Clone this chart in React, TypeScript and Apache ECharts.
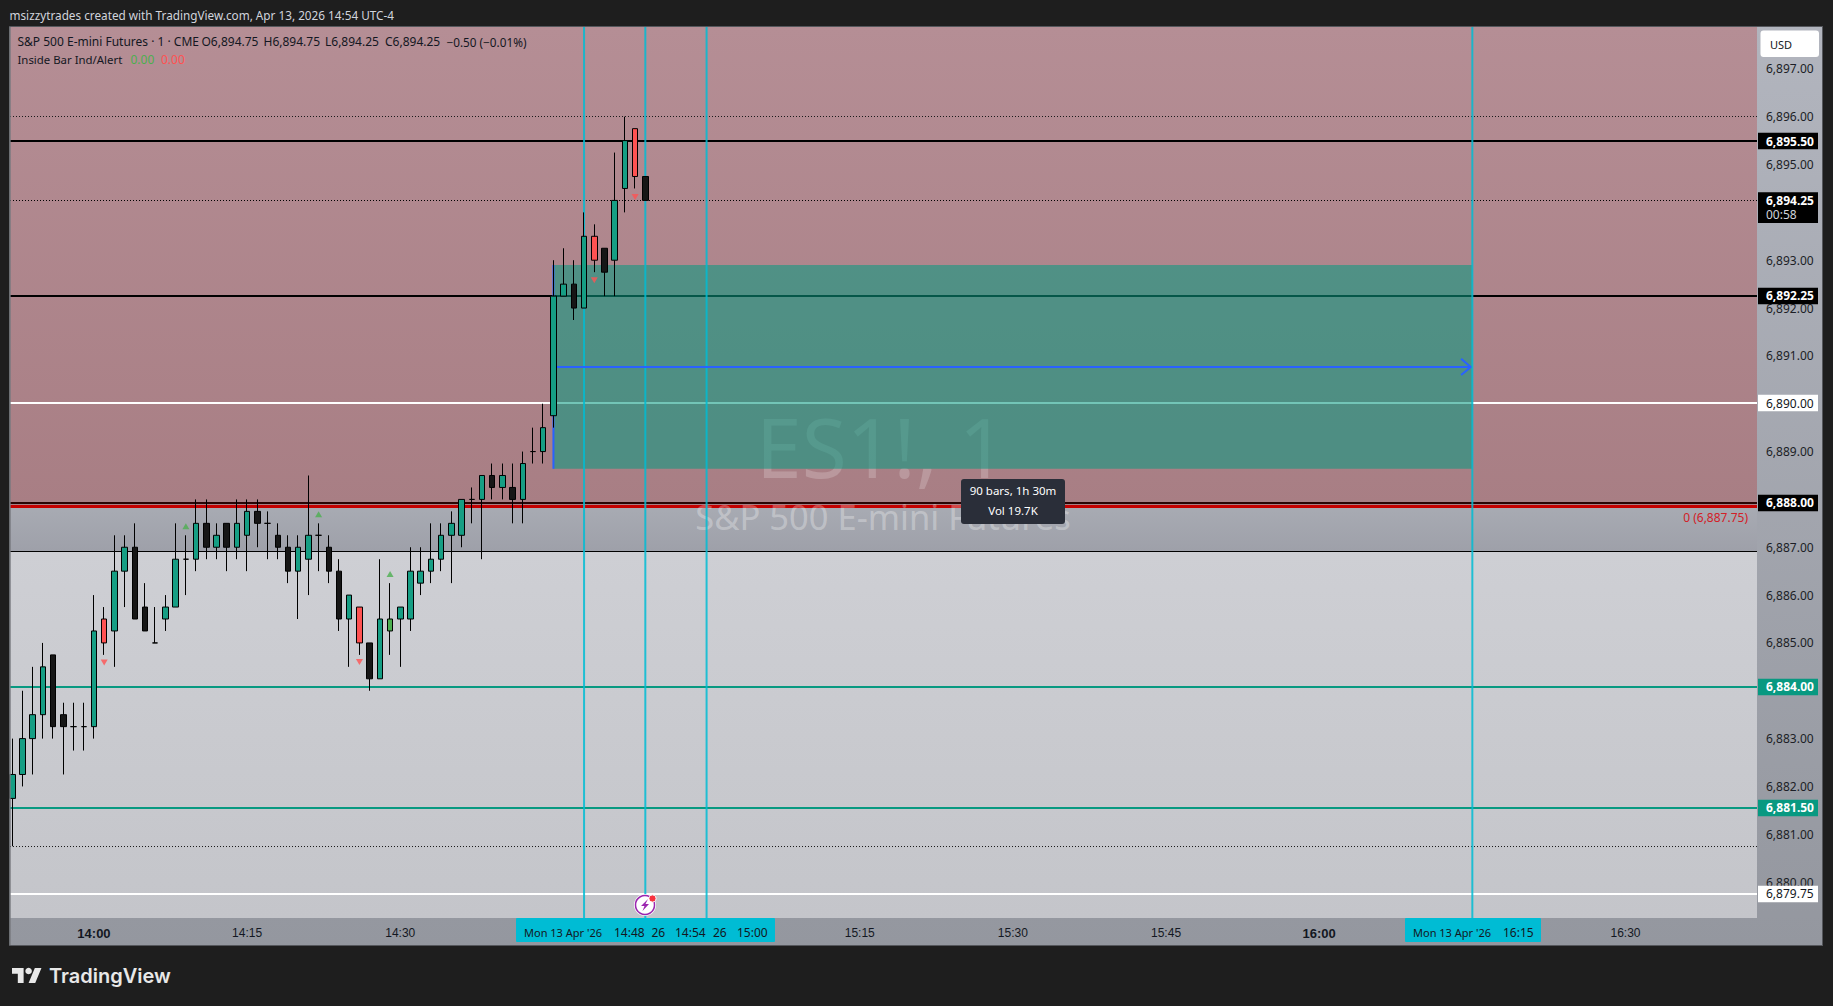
import React, { useEffect, useRef } from "react";
import * as echarts from "echarts";

// Time in minutes since midnight; first bar is 13:52, one bar per minute
const firstMinute = 832;
const opens = [6881.75,6882.25,6883,6883.5,6884.75,6883.5,6883.25,6883.25,6883.25,6885.5,6885.25,6886.5,6887,6885.75,6885,6885.5,6885.75,6886.75,6886.75,6887.5,6887,6887.5,6887,6887.25,6887.75,6887.5,6887.25,6887,6886.5,6886.75,6887.25,6887,6886.5,6885.5,6885.75,6885,6884.25,6885.25,6885.5,6885.5,6886.25,6886.5,6886.75,6887.25,6887.25,6888,6888,6888.5,6888.25,6888.25,6888,6889,6889,6889.75,6892.25,6892.5,6892,6893.5,6893.25,6893,6894.5,6895.75,6894.75];
const closes = [6882.25,6883,6883.5,6884.5,6883.25,6883.25,6883.25,6883.25,6885.25,6885,6886.5,6887,6885.5,6885.25,6885,6885.75,6886.75,6886.75,6887.5,6887,6887.25,6887,6887.5,6887.75,6887.5,6887.5,6887,6886.5,6887,6887.25,6887.25,6886.5,6885.5,6886,6885,6884.25,6885.5,6885.5,6885.75,6886.5,6886.5,6886.75,6887.25,6887.5,6888,6888,6888.5,6888.25,6888.5,6888,6888.75,6889,6889.5,6892.25,6892.5,6892,6893.5,6893,6892.75,6894.25,6895.5,6894.75,6894.25];
const lows = [6880.75,6882,6882.25,6883,6883,6882.25,6882.75,6882.75,6883,6884.75,6884.5,6885.75,6885.5,6885.25,6885,6885.25,6885.75,6886,6886.5,6886.75,6886.75,6886.5,6886.75,6886.5,6887,6886.75,6886.75,6886.25,6885.5,6886,6886.5,6886.25,6885.25,6884.5,6884.75,6884,6884.25,6884.75,6884.5,6885.25,6886,6886.25,6886.5,6886.25,6887,6887.5,6886.75,6888,6888,6887.5,6887.5,6888.75,6888.75,6889.5,6892.25,6891.75,6892,6892.75,6892.25,6892.25,6894,6894.5,6894.25];
const highs = [6883,6884,6884.5,6885,6884.75,6883.75,6883.75,6883.75,6886,6885.75,6887.25,6887.25,6887.5,6886.25,6885.75,6886,6887.5,6887.25,6888,6888,6887.5,6887.5,6888,6888,6888,6887.75,6887.5,6887.25,6887.25,6888.5,6887.5,6887.25,6886.75,6886,6885.75,6885,6886.75,6886.25,6885.75,6887,6887,6887.5,6887.5,6887.75,6888,6888.25,6888.5,6888.75,6888.75,6888.75,6889,6889.5,6890,6893,6893.25,6893,6894,6893.75,6893.25,6895.25,6896,6895.75,6894.75];
const kinds = ["t","t","t","t","b","b","b","b","t","r","t","t","b","b","b","t","t","b","t","b","t","b","t","t","b","b","b","b","t","t","b","b","b","t","r","b","t","g","t","t","t","t","t","t","t","b","t","b","t","b","t","b","t","t","t","b","t","r","b","t","t","r","b"];

const buyMarkMinutes = [849, 862, 869];
const buyMarkPrices = [6887.44, 6887.69, 6886.44];
const sellMarkMinutes = [841, 866, 889, 893];
const sellMarkPrices = [6884.59, 6884.6, 6892.58, 6894.32];

const priceTicks = [6880,6881,6882,6883,6885,6886,6887,6888,6889,6890,6891,6892,6893,6895,6896,6897];
const timeTicks = [840, 855, 870, 915, 930, 945, 960, 990];
const cursorMinutes = [888, 894, 900, 975];

const levelValues = [6895.492, 6892.252, 6890.015, 6887.925, 6887.852, 6886.911, 6884.079, 6881.55, 6879.752, 6896.004, 6894.248, 6880.744];
const tagValues = [6895.492, 6894.248, 6892.252, 6890.015, 6887.925, 6884.079, 6881.55, 6879.752];
const tagTexts = ["6,895.50", "6,894.25", "6,892.25", "6,890.00", "6,888.00", "6,884.00", "6,881.50", "6,879.75"];

const positionStart = 885;
const positionEnd = 975;
const positionTop = 6892.9;
const positionBottom = 6888.64;
const positionMid = 6890.77;

const X_MIN = 831.775;
const X_MAX = 1002.88;
const Y_MIN = 6879.25;
const Y_MAX = 6897.875;
const ZONE_PINK_BOTTOM = 6887.852;
const ZONE_BAND_BOTTOM = 6886.911;

const levelStyles = [
  { color: "#000000", width: 2 },
  { color: "#000000", width: 2 },
  { color: "#ffffff", width: 2 },
  { color: "#2a0505", width: 2 },
  { color: "#c40000", width: 3 },
  { color: "#000000", width: 1 },
  { color: "#089981", width: 2 },
  { color: "#089981", width: 2 },
  { color: "#ffffff", width: 2 },
  { color: "#1a1a1a", width: 1, type: [1, 2] },
  { color: "#000000", width: 1, type: [1, 2] },
  { color: "#1a1a1a", width: 1, type: [1, 2] },
];
const tagStyles = [
  { fill: "#000000", ink: "#ffffff", bold: true },
  { fill: "#000000", ink: "#ffffff", bold: true, sub: "00:58" },
  { fill: "#000000", ink: "#ffffff", bold: true },
  { fill: "#ffffff", ink: "#131722", bold: false },
  { fill: "#000000", ink: "#ffffff", bold: true },
  { fill: "#089981", ink: "#ffffff", bold: true },
  { fill: "#089981", ink: "#ffffff", bold: true },
  { fill: "#ffffff", ink: "#131722", bold: false },
];
const kindColors: Record<string, string> = { t: "#169e84", b: "#161616", r: "#ff5252", g: "#4caf50" };

const UI = "'Noto Sans', sans-serif";
const vGrad = (a: string, b: string) =>
  new echarts.graphic.LinearGradient(0, 0, 0, 1, [{ offset: 0, color: a }, { offset: 1, color: b }]);

const money = (v: number) =>
  v.toLocaleString("en-US", { minimumFractionDigits: 2, maximumFractionDigits: 2 });
const clock = (m: number) =>
  `${Math.floor(m / 60)}:${String(m % 60).padStart(2, "0")}`;

echarts.graphic.registerShape(
  "tvlogo",
  echarts.graphic.extendPath("M14 22H7V11H0V4h14v18zM28 22h-8l7.5-18h8L28 22z", {}) as any
);

const hLine = (v: number) => [[X_MIN, v], [X_MAX, v]];
const lineSeries = (data: number[][], style: any, z: number) => ({
  type: "line",
  data,
  silent: true,
  showSymbol: false,
  symbol: "none",
  animation: false,
  z,
  lineStyle: { ...style, cap: "butt" },
});

const zoneSeries = (rows: any[], z: number) => ({
  type: "custom",
  silent: true,
  z,
  data: rows.map((r) => [r.x0, r.y0, r.x1, r.y1]),
  renderItem: (params: any, api: any) => {
    const a = api.coord([api.value(0), api.value(1)]);
    const b = api.coord([api.value(2), api.value(3)]);
    return {
      type: "rect",
      shape: { x: a[0], y: a[1], width: b[0] - a[0], height: b[1] - a[1] },
      style: { fill: rows[params.dataIndex].fill },
    };
  },
});

const txt = (text: string, x: number, y: number, o: any = {}) => ({
  type: "text",
  x,
  y,
  z: o.z ?? 30,
  silent: true,
  style: {
    text,
    fill: o.fill ?? "#131722",
    font: `${o.weight ?? "normal"} ${o.size ?? 12}px ${o.family ?? UI}`,
    align: o.align ?? "left",
    verticalAlign: "middle",
  },
});

export default function App() {
  const ref = useRef<HTMLDivElement>(null);
  useEffect(() => {
    document.body.style.margin = "0";
    document.body.style.background = "#1e1e1e";
    const chart = echarts.init(ref.current!, undefined, { renderer: "svg" });

    const candleData = opens.map((o, i) => {
      const c = kindColors[kinds[i]];
      return {
        value: [firstMinute + i, o, closes[i], lows[i], highs[i]],
        itemStyle: { color: c, color0: c, borderColor: "#000000", borderColor0: "#000000", borderWidth: 1 },
      };
    });

    const graphic = [
      { type: "rect", z: -20, silent: true, shape: { x: 9, y: 26, width: 1814, height: 920 }, style: { fill: "#55575c" } },
      { type: "rect", z: -19, silent: true, shape: { x: 10, y: 27, width: 1812, height: 918 }, style: { fill: vGrad("#b2b5be", "#94979f") } },
      { type: "rect", z: 25, silent: true, shape: { x: 9.3, y: 27, width: 1.4, height: 918 }, style: { fill: "#77797e" } },

      txt("msizzytrades created with TradingView.com, Apr 13, 2026 14:54 UTC-4", 9.5, 15, { fill: "#d1d4dc", size: 11.75 }),

      txt("S&P 500 E-mini Futures · 1 · CME", 17.5, 41.5),
      txt("O6,894.75", 201.5, 41.5),
      txt("H6,894.75", 263.5, 41.5),
      txt("L6,894.25", 325, 41.5),
      txt("C6,894.25", 385, 41.5),
      txt("−0.50 (−0.01%)", 446.5, 41.5, { size: 11.75 }),
      txt("Inside Bar Ind/Alert", 17.5, 59, { size: 11.4 }),
      txt("0.00", 130.5, 59, { fill: "#4caf50" }),
      txt("0.00", 161, 59, { fill: "#ff5252" }),

      // watermark, under the position box
      { ...txt("ES1!, 1", 881, 446, { size: 82, align: "center", fill: "rgba(255,255,255,0.2)", z: 3 }) },
      { ...txt("S&P 500 E-mini Futures", 883, 516, { size: 34.5, align: "center", fill: "rgba(255,255,255,0.3)", z: 3 }) },

      txt("0 (6,887.75)", 1748, 517.5, { fill: "#d32027", align: "right", z: 20 }),

      // tooltip of the position tool
      { type: "rect", z: 30, silent: true, shape: { x: 961, y: 479, width: 104, height: 45, r: 3 }, style: { fill: "#2a2e39" } },
      txt("90 bars, 1h 30m", 1013, 490, { fill: "#ffffff", align: "center", size: 11.5 }),
      txt("Vol 19.7K", 1013, 510.5, { fill: "#ffffff", align: "center", size: 11.5 }),

      // USD button
      { type: "rect", z: 30, silent: true, shape: { x: 1760.5, y: 30.5, width: 58.5, height: 26.5, r: 3 }, style: { fill: "#ffffff" } },
      txt("USD", 1770, 44.5, { size: 11 }),

      // time-axis cursor labels
      { type: "rect", z: 30, silent: true, shape: { x: 516, y: 918, width: 259, height: 24, r: 1 }, style: { fill: "#00bcd4" } },
      txt("Mon 13 Apr '26", 524, 932.5, { size: 11 }),
      txt("14:48", 614, 932.5),
      txt("26", 651.5, 932.5),
      txt("14:54", 675, 932.5),
      txt("26", 713, 932.5),
      txt("15:00", 737, 932.5),
      { type: "rect", z: 30, silent: true, shape: { x: 1405, y: 918, width: 136, height: 24, r: 1 }, style: { fill: "#00bcd4" } },
      txt("Mon 13 Apr '26", 1413, 932.5, { size: 11 }),
      txt("16:15", 1503, 932.5),

      // alert icon
      { type: "circle", z: 30, silent: true, shape: { cx: 645, cy: 905, r: 11 }, style: { fill: "#ffffff" } },
      { type: "circle", z: 30, silent: true, shape: { cx: 645, cy: 905, r: 9.5 }, style: { fill: "#ffffff", stroke: "#9c27b0", lineWidth: 1.5 } },
      { type: "polygon", z: 31, silent: true, shape: { points: [[648, 899], [641, 906], [644.5, 906], [642.5, 911], [649, 904], [645.5, 904]] }, style: { fill: "#9c27b0" } },
      { type: "circle", z: 32, silent: true, shape: { cx: 652.5, cy: 898.5, r: 3.6 }, style: { fill: "#f7323f", stroke: "#ffffff", lineWidth: 1 } },

      // TradingView logo
      { type: "tvlogo", z: 30, silent: true, x: 12, y: 964.7, scaleX: 0.83, scaleY: 0.83, style: { fill: "#e8e8e8" } },
      { type: "circle", z: 30, silent: true, shape: { cx: 12 + 20 * 0.83, cy: 964.7 + 7.6 * 0.83, r: 3.3 }, style: { fill: "#e8e8e8" } },
      txt("TradingView", 49, 976, { size: 20, weight: 600, fill: "#e8e8e8", family: "Inter, sans-serif" }),
    ];

    chart.setOption({
      animation: false,
      backgroundColor: "#1e1e1e",
      tooltip: { show: false },
      legend: { show: false },
      grid: { left: 10, top: 27, width: 1747, height: 891, containLabel: false },
      xAxis: {
        type: "value",
        min: X_MIN,
        max: X_MAX,
        splitLine: { show: false },
        axisLine: { show: false },
        axisTick: { show: false },
        axisLabel: {
          customValues: timeTicks,
          margin: 9,
          color: "#131722",
          fontFamily: "'Liberation Sans', sans-serif",
          fontSize: 12,
          formatter: (v: number) => (v % 60 === 0 ? `{b|${clock(v)}}` : clock(v)),
          rich: { b: { fontWeight: "bold", fontSize: 13, color: "#131722", fontFamily: "'Liberation Sans', sans-serif" } },
        },
      },
      yAxis: {
        type: "value",
        position: "right",
        min: Y_MIN,
        max: Y_MAX,
        splitLine: { show: false },
        axisLine: { show: false },
        axisTick: { show: false },
        axisLabel: {
          customValues: priceTicks,
          margin: 9,
          padding: [0, 0, 2, 0],
          color: "#1c1e26",
          fontFamily: UI,
          fontSize: 12,
          formatter: (v: number) => money(v),
        },
      },
      graphic,
      series: [
        zoneSeries(
          [
            { x0: X_MIN, y0: Y_MAX, x1: X_MAX, y1: ZONE_PINK_BOTTOM, fill: vGrad("#b58e95", "#a87e84") },
            { x0: X_MIN, y0: ZONE_PINK_BOTTOM, x1: X_MAX, y1: ZONE_BAND_BOTTOM, fill: vGrad("#a8abb3", "#9ea0a9") },
            { x0: X_MIN, y0: ZONE_BAND_BOTTOM, x1: X_MAX, y1: Y_MIN, fill: vGrad("#cecfd4", "#c4c5ca") },
          ],
          1
        ),
        ...levelValues.map((v, i) => lineSeries(hLine(v), levelStyles[i], 2)),
        zoneSeries([{ x0: positionStart, y0: positionTop, x1: positionEnd, y1: positionBottom, fill: "rgba(8,153,129,0.57)" }], 4),
        ...cursorMinutes.map((m) => lineSeries([[m, Y_MIN], [m, Y_MAX]], { color: "#00bcd4", width: 2, opacity: 0.85 }, 5)),
        lineSeries([[positionStart, positionTop], [positionStart, positionBottom]], { color: "#2962ff", width: 2 }, 6),
        lineSeries([[positionStart, positionMid], [positionEnd - 0.15, positionMid]], { color: "#2962ff", width: 2 }, 6),
        lineSeries(
          [[positionEnd - 1.1, positionMid + 0.17], [positionEnd - 0.15, positionMid], [positionEnd - 1.1, positionMid - 0.17]],
          { color: "#2962ff", width: 2 },
          6
        ),
        {
          type: "candlestick",
          barWidth: 6,
          silent: true,
          z: 7,
          data: candleData,
        },
        {
          type: "scatter",
          silent: true,
          z: 8,
          symbol: "triangle",
          symbolSize: [7, 6],
          itemStyle: { color: "#4caf50" },
          data: buyMarkMinutes.map((m, i) => [m, buyMarkPrices[i]]),
        },
        {
          type: "scatter",
          silent: true,
          z: 8,
          symbol: "triangle",
          symbolRotate: 180,
          symbolSize: [7, 6],
          itemStyle: { color: "#ff5252" },
          data: sellMarkMinutes.map((m, i) => [m, sellMarkPrices[i]]),
        },
        {
          type: "custom",
          silent: true,
          z: 20,
          clip: false,
          data: tagValues.map((v) => [X_MAX, v]),
          renderItem: (params: any, api: any) => {
            const y = api.coord([X_MAX, api.value(1)])[1];
            const s: any = tagStyles[params.dataIndex];
            const font = `${s.bold ? "bold" : "normal"} 12px ${UI}`;
            const children: any[] = [
              { type: "rect", shape: { x: 1758, y: y - 8.3, width: 60, height: s.sub ? 30.7 : 16.6 }, style: { fill: s.fill } },
              { type: "text", style: { text: tagTexts[params.dataIndex], x: 1766, y, fill: s.ink, font, verticalAlign: "middle" } },
            ];
            if (s.sub) {
              children.push({ type: "text", style: { text: s.sub, x: 1766, y: y + 14, fill: "#d1d4dc", font: `12px ${UI}`, verticalAlign: "middle" } });
            }
            return { type: "group", children };
          },
        },
      ],
    });
    return () => chart.dispose();
  }, []);
  return <div ref={ref} style={{ width: 1833, height: 1006 }} />;
}
